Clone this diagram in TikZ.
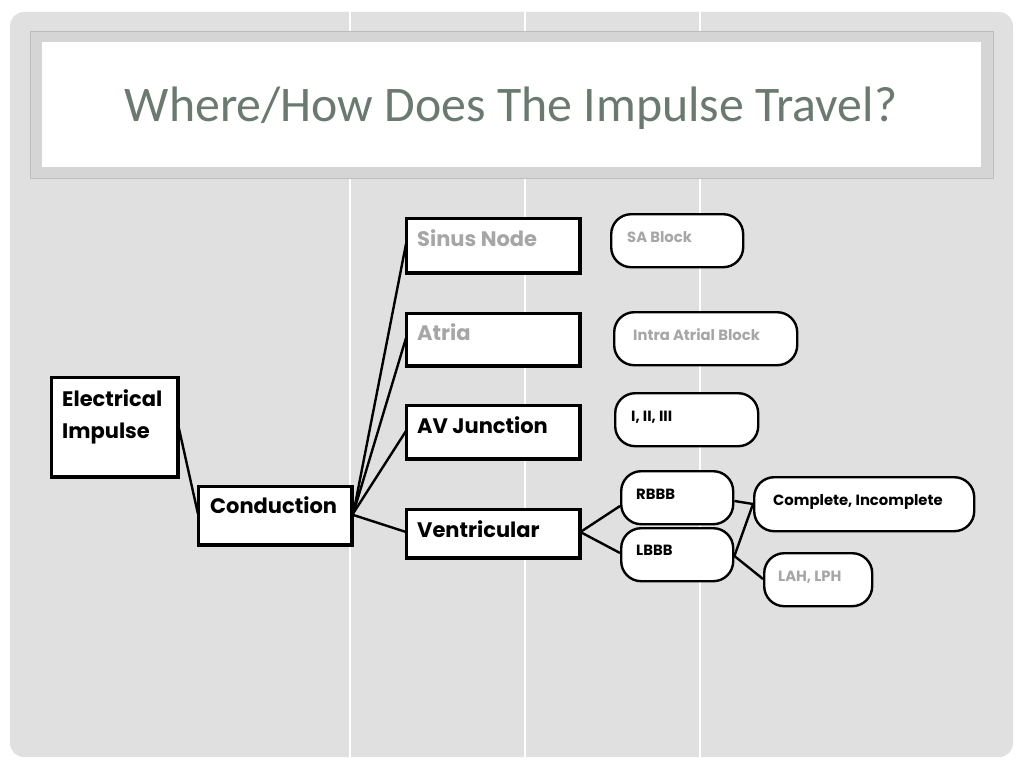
\documentclass[tikz,border=0pt]{standalone}
\usepackage{fontspec}
\setmainfont{Poppins}
\newfontfamily\titlefont{Carlito}
\usetikzlibrary{calc}
\definecolor{panel}{HTML}{E0E0E0}
\definecolor{frame}{HTML}{D5D5D5}
\definecolor{frameline}{HTML}{BDBDBD}
\definecolor{titlecol}{HTML}{6B7A71}
\definecolor{lightgray}{HTML}{A6A6A6}
\tikzset{
  box/.style={draw=black, line width=2.4pt, fill=white, rectangle, inner sep=0pt, anchor=north west},
  pill/.style={draw=black, line width=2.4pt, fill=white, rectangle, rounded corners=20pt, inner sep=0pt, anchor=north west},
  big/.style={anchor=base west, inner sep=0pt, font=\fontsize{21}{23}\selectfont\bfseries},
  small/.style={anchor=base west, inner sep=0pt, font=\fontsize{14.8}{16}\selectfont\bfseries},
  conn/.style={draw=black, line width=2.4pt},
}
\begin{document}
\begin{tikzpicture}[x=1pt,y=-1pt]
\useasboundingbox (0,0) rectangle (1024,768);
\fill[white] (0,0) rectangle (1024,768);
\fill[panel, rounded corners=14pt] (10,12) rectangle (1013,757);
% vertical white lines
\foreach \x in {350,525,700} \draw[white, line width=1.2pt] (\x,12) -- (\x,757);
% title frame
\filldraw[fill=frame, draw=frameline, line width=1pt] (30,32) rectangle (993,178);
\fill[white] (42,42) rectangle (981,167);
\node[anchor=base, inner sep=0pt, text=titlecol, font=\titlefont\fontsize{49.8}{54}\selectfont] (title) at (511,121) {Where/How Does The Impulse Travel?};

% rectangles
\node[box, minimum width=125pt, minimum height=98pt] (elec) at (51,377) {};
\node[box, minimum width=152pt, minimum height=57pt] (cond) at (198,486) {};
\node[box, minimum width=172pt, minimum height=53pt] (sinus) at (406,218) {};
\node[box, minimum width=172pt, minimum height=51pt] (atria) at (406,313) {};
\node[box, minimum width=172pt, minimum height=52pt] (avj) at (406,405) {};
\node[box, minimum width=172pt, minimum height=47pt] (vent) at (406,509) {};

\node[big] (elect) at (62,406) {Electrical};
\node[big] (elect2) at (62,438) {Impulse};
\node[big] (condt) at (210,513) {Conduction};
\node[big, text=lightgray] (sinust) at (417,246) {Sinus Node};
\node[big, text=lightgray] (atriat) at (417,340) {Atria};
\node[big] (avjt) at (417,433) {AV Junction};
\node[big] (ventt) at (417,537) {Ventricular};

% pills
\node[pill, minimum width=132pt, minimum height=53pt] (sa) at (610,213) {};
\node[pill, minimum width=183pt, minimum height=53pt] (iab) at (613,311) {};
\node[pill, minimum width=143pt, minimum height=53pt] (deg) at (614,392) {};
\node[pill, minimum width=112pt, minimum height=53pt] (rbbb) at (620,470) {};
\node[pill, minimum width=112pt, minimum height=53pt] (lbbb) at (620,527) {};
\node[pill, minimum width=220pt, minimum height=54pt] (comp) at (753,476) {};
\node[pill, minimum width=108pt, minimum height=53pt] (lah) at (763,552) {};

\node[small, text=lightgray] (sat) at (627,242) {SA Block};
\node[small, text=lightgray] (iabt) at (633,340) {Intra Atrial Block};
\node[small] (degt) at (631,421) {I, II, III};
\node[small] (rbbbt) at (636,499) {RBBB};
\node[small] (lbbbt) at (636,555) {LBBB};
\node[small] (compt) at (773,505) {Complete, Incomplete};
\node[small, text=lightgray] (laht) at (778,581) {LAH, LPH};

% connectors
\draw[conn] ($(elec.north east)+(0,49)$) -- ($(cond.north west)+(0,28)$);
\coordinate (hub) at ($(cond.north east)+(1,27)$);
\draw[conn] (hub) -- ($(sinus.north west)+(0,26)$);
\draw[conn] (hub) -- ($(atria.north west)+(0,25)$);
\draw[conn] (hub) -- ($(avj.north west)+(0,26)$);
\draw[conn] ($(cond.north east)+(1,29)$) -- ($(vent.north west)+(0,23)$);
\draw[conn] ($(vent.north east)+(0,23)$) -- ($(rbbb.north west)+(0,36)$);
\draw[conn] ($(vent.north east)+(0,23)$) -- ($(lbbb.north west)+(0,26)$);
\draw[conn] ($(rbbb.north east)+(0,31)$) -- ($(comp.north west)+(0,28)$);
\draw[conn] ($(lbbb.north east)+(0,29)$) -- ($(comp.north west)+(0,28)$);
\draw[conn] ($(lbbb.north east)+(0,29)$) -- ($(lah.north west)+(0,27)$);
% redraw node borders on top of connectors
\foreach \n in {elec,cond,sinus,atria,avj,vent}
  \draw[black, line width=2.4pt] (\n.north west) rectangle (\n.south east);
\end{tikzpicture}
\end{document}
